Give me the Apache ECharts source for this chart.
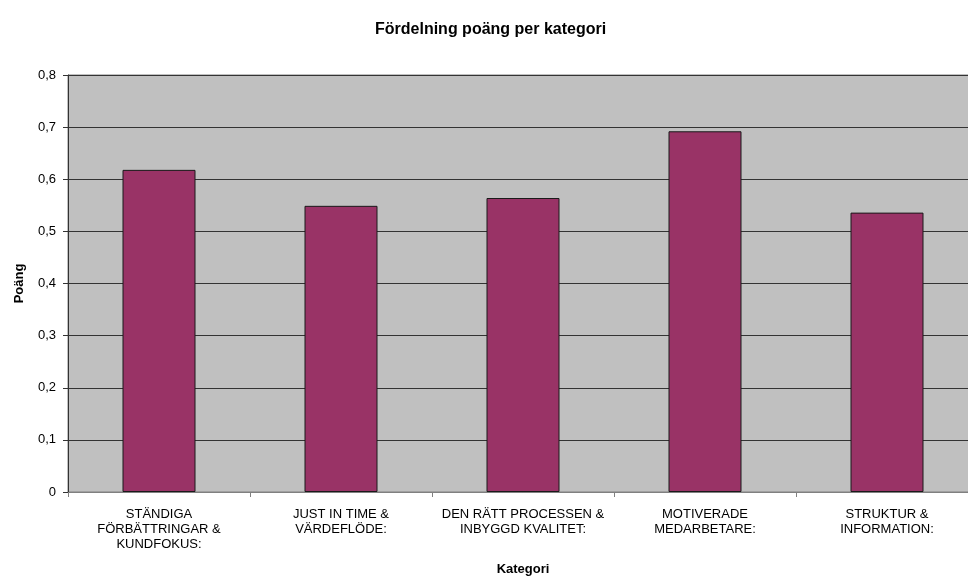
<!DOCTYPE html>
<html>
<head>
<meta charset="utf-8">
<script src="https://cdn.jsdelivr.net/npm/echarts@6/dist/echarts.min.js"></script>
<style>html,body{margin:0;padding:0;background:#fff;overflow:hidden;width:968px;height:577px}#c{width:978px;height:577px}</style>
</head>
<body>
<div id="c"></div>
<script>
const categories = [
  "STÄNDIGA\nFÖRBÄTTRINGAR &\nKUNDFOKUS:",
  "JUST IN TIME &\nVÄRDEFLÖDE:",
  "DEN RÄTT PROCESSEN &\nINBYGGD KVALITET:",
  "MOTIVERADE\nMEDARBETARE:",
  "STRUKTUR &\nINFORMATION:"
];
const values = [0.618, 0.549, 0.564, 0.692, 0.536];
const yTicks = [0, 0.1, 0.2, 0.3, 0.4, 0.5, 0.6, 0.7, 0.8];

const chart = echarts.init(document.getElementById('c'), null, {renderer: 'canvas'});
const font = 'Liberation Sans, Arial, sans-serif';
chart.setOption({
  animation: false,
  backgroundColor: '#fff',
  title: {
    text: 'Fördelning poäng per kategori',
    left: 370,
    top: 17,
    textStyle: {fontFamily: font, fontSize: 16, fontWeight: 'bold', color: '#000'}
  },
  grid: {
    left: 68, right: 0, top: 75, bottom: 85,
    outerBoundsMode: 'none',
    containLabel: false,
    show: true, backgroundColor: '#C0C0C0', borderColor: '#808080', borderWidth: 1
  },
  xAxis: {
    type: 'category',
    data: categories,
    name: 'Kategori',
    nameLocation: 'middle',
    nameGap: 71,
    nameTextStyle: {fontFamily: font, fontSize: 13, fontWeight: 'bold', color: '#000'},
    axisLine: {lineStyle: {color: '#808080', width: 1}},
    axisTick: {show: true, length: 5, lineStyle: {color: '#808080'}},
    axisLabel: {fontFamily: font, fontSize: 13, color: '#000', lineHeight: 15, margin: 15, interval: 0}
  },
  yAxis: {
    type: 'value',
    min: yTicks[0],
    max: yTicks[yTicks.length - 1],
    interval: 0.1,
    name: 'Poäng',
    nameLocation: 'middle',
    nameGap: 42,
    nameRotate: 90,
    nameTextStyle: {fontFamily: font, fontSize: 13, fontWeight: 'bold', color: '#000'},
    axisLine: {show: true, lineStyle: {color: '#333', width: 1}},
    axisTick: {show: true, length: 5, lineStyle: {color: '#333'}},
    axisLabel: {
      fontFamily: font, fontSize: 13, color: '#000', margin: 12,
      formatter: v => (Math.round(v * 10) === 0 ? '0' : (Math.round(v * 10) / 10).toFixed(1).replace('.', ','))
    },
    splitLine: {show: true, lineStyle: {color: '#333', width: 1}}
  },
  series: [{
    type: 'bar',
    data: values,
    barWidth: 73,
    itemStyle: {color: '#993366', borderColor: '#1a1a1a', borderWidth: 1}
  }]
});
</script>
</body>
</html>
